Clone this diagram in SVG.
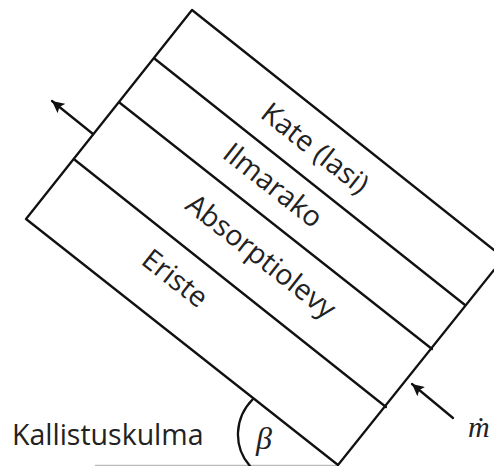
<svg xmlns="http://www.w3.org/2000/svg" width="494" height="466" viewBox="0 0 494 466">
<style>
.l{fill:none;stroke:#111;stroke-width:2.3;stroke-linecap:round;stroke-linejoin:round}
.t{font-family:"Open Sans","Noto Sans",sans-serif;font-size:28.5px;fill:#222}
.m{font-family:"Liberation Serif",serif;font-style:italic;fill:#222}
</style>
<defs><marker id="a" markerUnits="userSpaceOnUse" markerWidth="14" markerHeight="12" refX="12" refY="6" orient="auto"><path d="M0 0L12 6L0 12L2.5 6Z" fill="#111"/></marker></defs>
<rect width="494" height="466" fill="#fff"/>
<g id="connectors">
<path class="l" d="M93 134L52 101" marker-end="url(#a)"/>
<path class="l" d="M453 418L412 384" marker-end="url(#a)"/>
<path d="M95 465.5H338" stroke="#bbb" stroke-width="1.5" fill="none"/>
<path class="l" d="M253 399C234 418 233 447 250 466"/>
</g>
<g id="collector">
<path class="l" d="M494 250L192 10L26 219L338 465L494 270"/>
<path class="l" d="M155 59L465 305"/>
<path class="l" d="M120 103L432 349"/>
<path class="l" d="M75 160L386 407"/>
</g>
<g id="labels">
<text class="t" text-anchor="middle" transform="translate(309 156) rotate(38.2)">Kate (lasi)</text>
<text class="t" text-anchor="middle" transform="translate(267 193) rotate(38.2)">Ilmarako</text>
<text class="t" text-anchor="middle" transform="translate(255 264) rotate(38.2)">Absorptiolevy</text>
<text class="t" text-anchor="middle" transform="translate(169 286) rotate(38.2)">Eriste</text>
<text class="t" x="12" y="445">Kallistuskulma</text>
<text class="m" x="256" y="449" font-size="32">β</text>
<text class="m" x="468" y="437" font-size="30">ṁ</text>
</g>
</svg>
